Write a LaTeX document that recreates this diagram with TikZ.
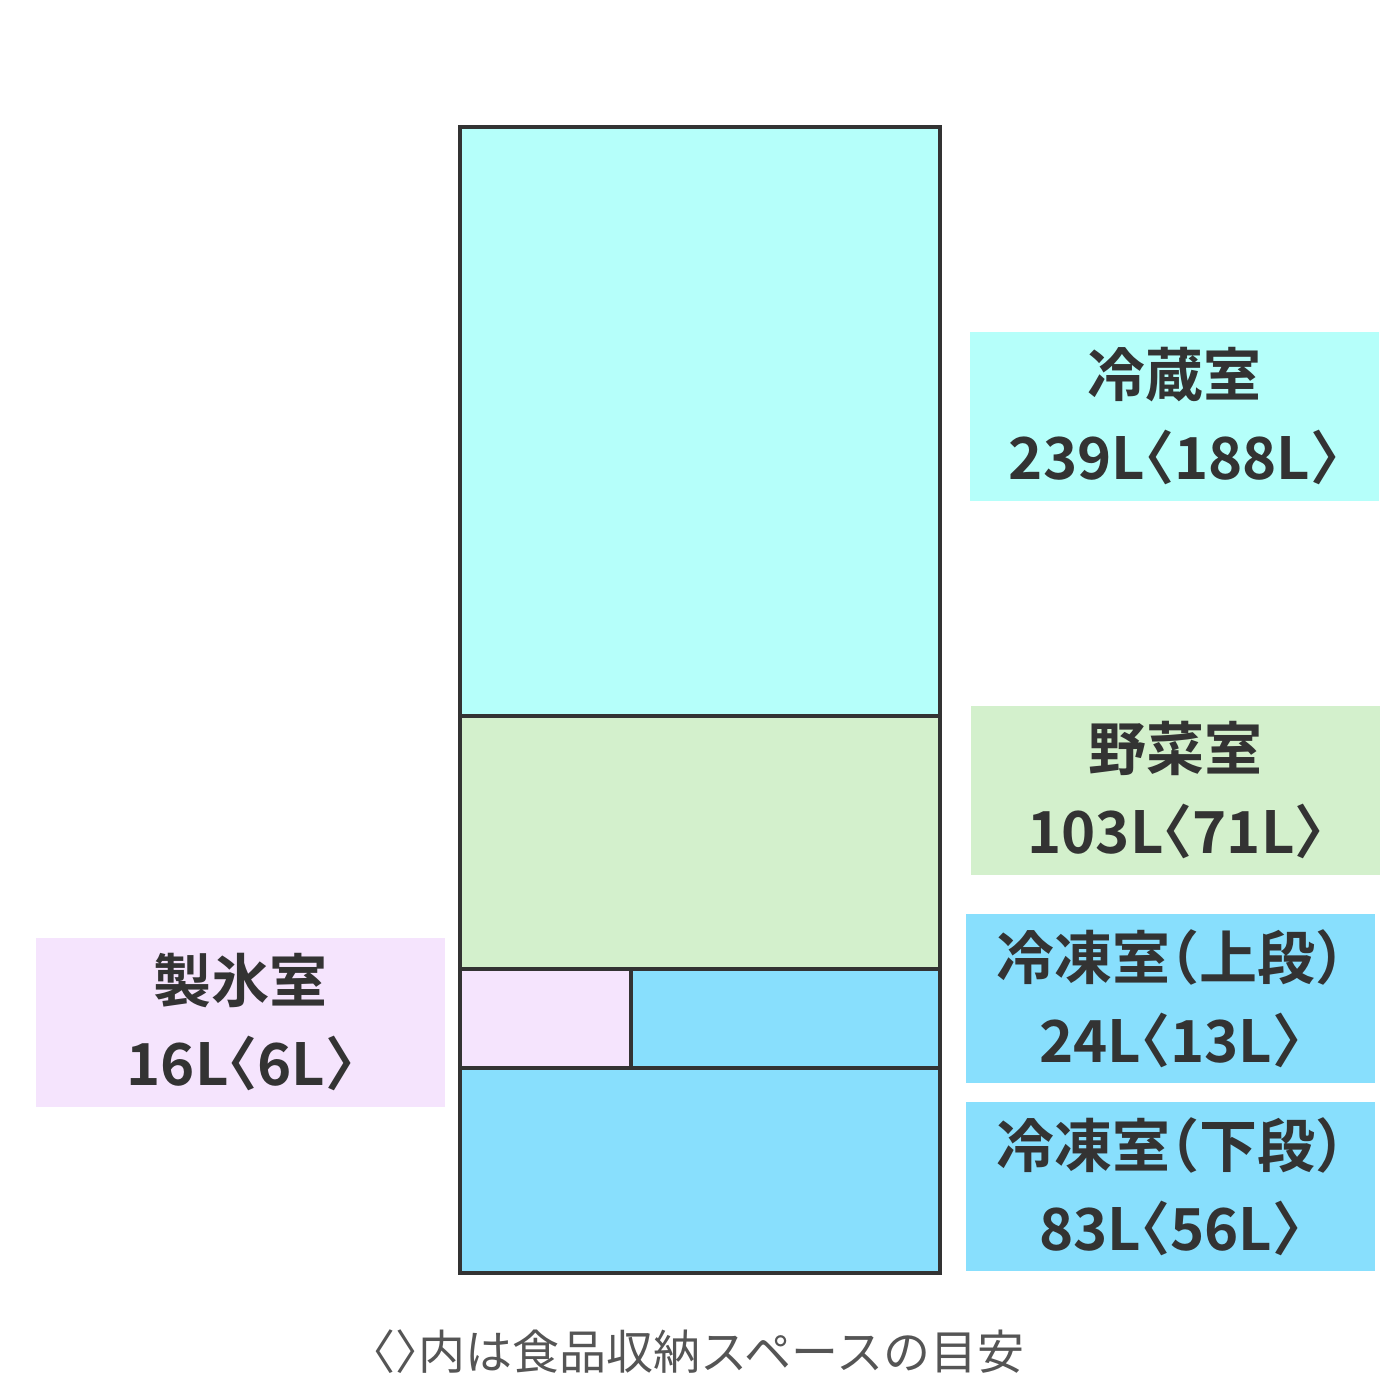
\documentclass[tikz,border=0pt]{standalone}
\usepackage{fontspec}
\newfontfamily\jp{Noto Sans CJK JP}[BoldFont={Noto Sans CJK JP Bold},RawFeature=+halt]
\definecolor{fridgecyan}{RGB}{181,255,250}
\definecolor{veggreen}{RGB}{211,240,204}
\definecolor{icepink}{RGB}{245,228,253}
\definecolor{frzblue}{RGB}{136,223,253}
\definecolor{ink}{RGB}{51,51,51}
\definecolor{noteink}{RGB}{85,85,85}
\tikzset{
  wall/.style={draw=ink,line width=2pt},
  labelbox/.style={inner sep=0pt,minimum width=204.5pt,minimum height=84.5pt,align=center,text=ink,
    font=\jp\bfseries\fontsize{29}{41.5}\selectfont},
  notetext/.style={inner sep=0pt,text=noteink,font=\jp\fontsize{23.5}{26}\selectfont}
}
\begin{document}
\begin{tikzpicture}[x=0.5pt,y=-0.5pt]
\useasboundingbox[fill=white] (0,0) rectangle (1400,1400);
% compartments
\fill[fridgecyan] (460,127) rectangle (940,716);
\fill[veggreen] (460,716) rectangle (940,969);
\fill[icepink] (460,969) rectangle (631,1068);
\fill[frzblue] (631,969) rectangle (940,1068);
\fill[frzblue] (460,1068) rectangle (940,1273);
\coordinate (tl) at (460,127);
\coordinate (br) at (940,1273);
\draw[wall] (tl) rectangle (br);
\draw[wall] (460,716) -- (940,716);
\draw[wall] (460,969) -- (940,969);
\draw[wall] (460,1068) -- (940,1068);
\draw[wall] (631,969) -- (631,1068);
% labels
\node[labelbox,fill=fridgecyan] (reizo) at (1174,416.5) {冷蔵室\\239L〈188L〉};
\node[labelbox,fill=veggreen] (yasai) at (1175.5,790.5) {野菜室\\103L〈71L〉};
\node[labelbox,fill=frzblue] (tojo) at (1170.5,998.5) {冷凍室（上段）\\24L〈13L〉};
\node[labelbox,fill=frzblue] (toge) at (1170.5,1186.5) {冷凍室（下段）\\83L〈56L〉};
\node[labelbox,fill=icepink] (seihyo) at (240.5,1022) {製氷室\\16L〈6L〉};
\node[notetext] (note) at (698,1352) {〈〉内は食品収納スペースの目安};
\end{tikzpicture}
\end{document}
